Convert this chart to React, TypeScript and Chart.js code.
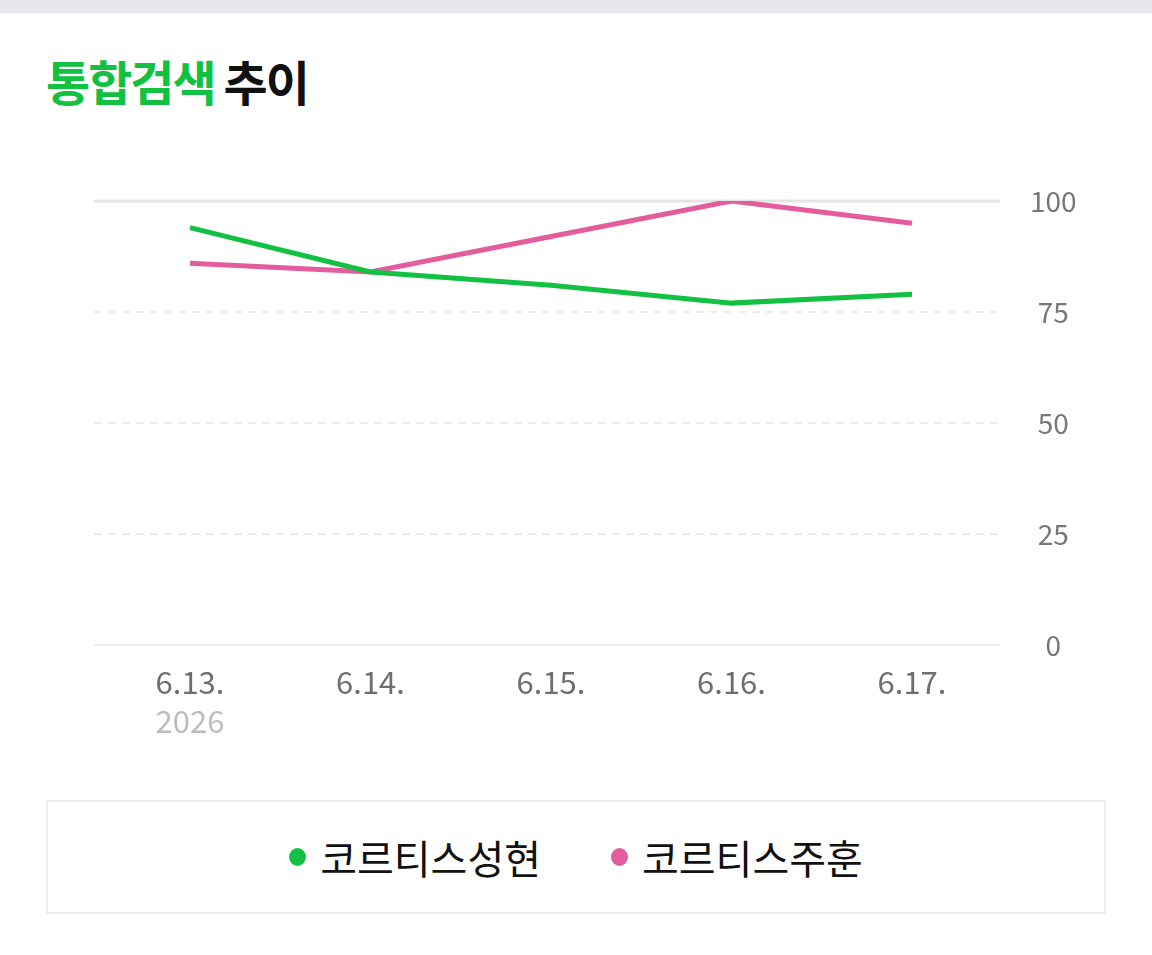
import React, { useEffect, useRef } from "react";
import { Chart, registerables } from "chart.js";

Chart.register(...registerables);

const categories = ["6.13.", "6.14.", "6.15.", "6.16.", "6.17."];
const yearLabel = "2026";
const seriesNames = ["코르티스성현", "코르티스주훈"];
const seongHyeon = [94, 84, 81, 77, 79];
const juHun = [86, 84, 92, 100, 95];
const yTicks = [0, 25, 50, 75, 100];

const GREEN = "#12c142";
const PINK = "#e35d9e";
const FONT = "'Noto Sans CJK KR', 'Noto Sans', sans-serif";

const gridPlugin = {
  id: "customGrid",
  beforeDatasetsDraw(chart: any) {
    const { ctx, scales } = chart;
    const y = scales.y;
    const x0 = 94;
    const x1 = 1000;
    ctx.save();
    yTicks.forEach((v) => {
      const py = Math.round(y.getPixelForValue(v));
      ctx.beginPath();
      if (v === 100) {
        ctx.setLineDash([]);
        ctx.strokeStyle = "#e4e4e6";
        ctx.lineWidth = 3;
      } else if (v === 0) {
        ctx.setLineDash([]);
        ctx.strokeStyle = "#efeff0";
        ctx.lineWidth = 2;
      } else {
        ctx.setLineDash([8, 6]);
        ctx.strokeStyle = "#ececed";
        ctx.lineWidth = 2;
      }
      ctx.moveTo(x0, py);
      ctx.lineTo(x1, py);
      ctx.stroke();
    });
    ctx.restore();
  },
  afterDraw(chart: any) {
    const { ctx, scales } = chart;
    const x = scales.x;
    ctx.save();
    ctx.font = `31px ${FONT}`;
    ctx.fillStyle = "#bcbcbc";
    ctx.textAlign = "center";
    ctx.textBaseline = "middle";
    ctx.fillText(yearLabel, x.getPixelForValue(0), 721 - 150);
    ctx.restore();
  },
};

export default function App() {
  const ref = useRef<HTMLCanvasElement | null>(null);

  useEffect(() => {
    document.body.style.margin = "0";
    const canvas = ref.current;
    if (!canvas) return;
    const chart = new Chart(canvas, {
      type: "line",
      data: {
        labels: categories,
        datasets: [
          {
            label: seriesNames[0],
            data: seongHyeon,
            borderColor: GREEN,
            backgroundColor: GREEN,
            borderWidth: 5,
            pointRadius: 0,
            tension: 0,
            fill: false,
          },
          {
            label: seriesNames[1],
            data: juHun,
            borderColor: PINK,
            backgroundColor: PINK,
            borderWidth: 5,
            pointRadius: 0,
            tension: 0,
            fill: false,
          },
        ],
      },
      options: {
        animation: false,
        responsive: false,
        maintainAspectRatio: false,
        layout: { padding: { left: 190, top: 51, right: 0, bottom: 0 } },
        plugins: {
          legend: { display: false },
          tooltip: { enabled: false },
          title: { display: false },
        },
        scales: {
          x: {
            type: "category",
            offset: false,
            grid: { display: false, drawTicks: false },
            border: { display: false },
            ticks: {
              color: "#6e6e6e",
              font: { family: FONT, size: 31 },
              padding: 19,
              maxRotation: 0,
              autoSkip: false,
            },
            afterFit(scale: any) {
              scale.height = 115;
              scale.paddingLeft = 0;
              scale.paddingRight = 0;
            },
          },
          y: {
            position: "right",
            min: 0,
            max: 100,
            grid: { display: false, drawTicks: false },
            border: { display: false },
            ticks: {
              stepSize: 25,
              color: "#777777",
              font: { family: FONT, size: 28 },
              crossAlign: "center",
              padding: 118,
            },
            afterBuildTicks(scale: any) {
              scale.ticks = yTicks.map((v) => ({ value: v }));
            },
            afterFit(scale: any) {
              scale.width = 240;
              scale.paddingTop = 0;
              scale.paddingBottom = 0;
            },
          },
        },
      },
      plugins: [gridPlugin],
    } as any);
    return () => chart.destroy();
  }, []);

  return (
    <div style={{ position: "relative", width: 1152, height: 955, background: "#fff", overflow: "hidden", fontFamily: FONT }}>
      <div style={{ position: "absolute", left: 0, top: 0, width: 1152, height: 13, background: "#e6e7ea" }} />
      <div
        style={{
          position: "absolute",
          left: 46,
          top: 54,
          fontSize: 48,
          lineHeight: "52px",
          fontWeight: 700,
          letterSpacing: "-2px",
          whiteSpace: "nowrap",
        }}
      >
        <span style={{ color: GREEN }}>통합검색</span>
        <span style={{ color: "#111" }}> 추이</span>
      </div>
      <canvas ref={ref} width={1152} height={610} style={{ position: "absolute", left: 0, top: 150, width: 1152, height: 610 }} />
      <div
        style={{
          position: "absolute",
          left: 46,
          top: 800,
          width: 1060,
          height: 114,
          boxSizing: "border-box",
          border: "2px solid #efefef",
          display: "flex",
          alignItems: "center",
          justifyContent: "center",
        }}
      >
        {seriesNames.map((name, i) => (
          <div key={name} style={{ display: "flex", alignItems: "center", marginLeft: i === 0 ? 0 : 70 }}>
            <span
              style={{
                display: "inline-block",
                width: 17,
                height: 18,
                borderRadius: "50%",
                background: i === 0 ? GREEN : PINK,
                marginRight: 14,
              }}
            />
            <span style={{ fontSize: 40, lineHeight: "46px", color: "#111", whiteSpace: "nowrap" }}>{name}</span>
          </div>
        ))}
      </div>
    </div>
  );
}
